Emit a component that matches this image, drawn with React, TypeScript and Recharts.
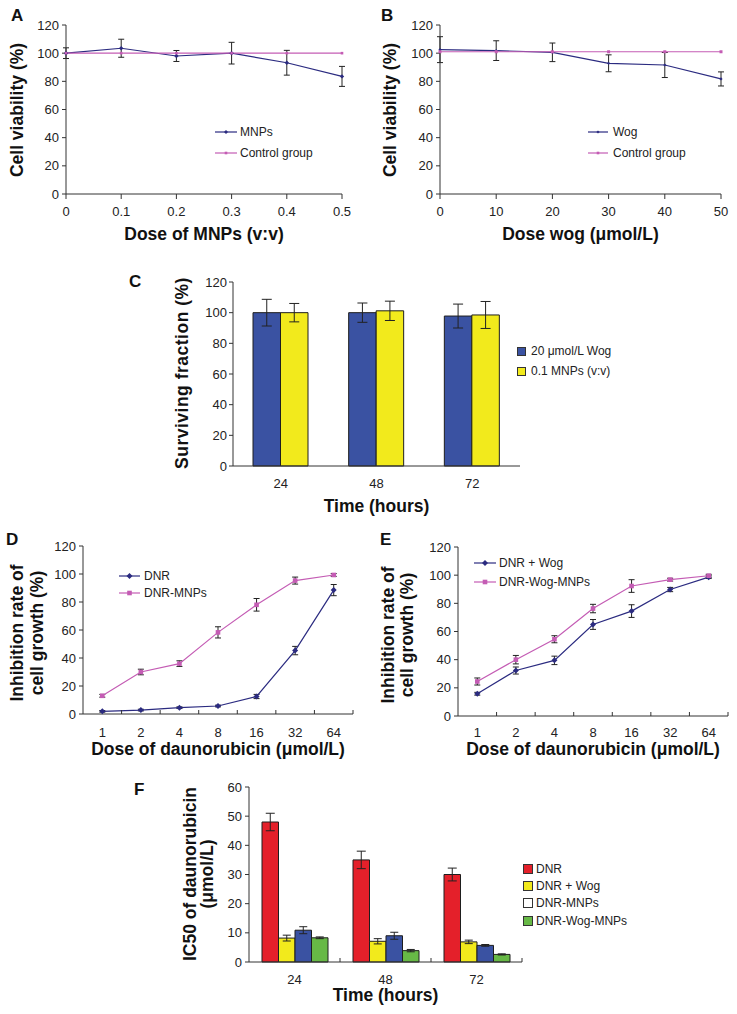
import React from 'react';
import { LineChart, Line, BarChart, Bar, XAxis, YAxis, ErrorBar, Legend, Label } from 'recharts';

const W = 737;
const H = 1014;
const FONT = '"Liberation Sans", Arial, Helvetica, sans-serif';
const NAVY = '#2b2b80';
const PINK = '#c45cb4';
const AXIS = '#333333';
const BLUE = '#3a52a2';
const YELLOW = '#f2ea1c';
const RED = '#e4202a';
const GREEN = '#67b946';

// A: cell viability vs MNPs dose
const mnpsDose = [0, 0.1, 0.2, 0.3, 0.4, 0.5];
const mnpsViability = [100, 103.5, 98, 100, 93.2, 83.5];
const mnpsSd = [3.8, 6.4, 3.9, 7.7, 8.8, 7.1];
const controlA = [100, 100, 100, 100, 100, 100];

// B: cell viability vs wogonin dose
const wogDose = [0, 10, 20, 30, 40, 50];
const wogViability = [102.5, 101.8, 100.6, 92.8, 91.6, 81.7];
const wogSd = [9.2, 7, 6.6, 6, 8.9, 5];
const controlB = [101, 101, 101, 101, 101, 101];

const viabilityTicks = [0, 20, 40, 60, 80, 100, 120];

// C: surviving fraction
const timeLabels = ['24', '48', '72'];
const wogSurv = [100, 100, 97.8];
const wogSurvSd = [8.7, 6.3, 7.8];
const mnpSurv = [100, 101.2, 98.5];
const mnpSurvSd = [6, 6.3, 8.8];

// D / E: inhibition rate
const doseLabels = ['1', '2', '4', '8', '16', '32', '64'];
const dnr = [1.9, 2.8, 4.5, 5.7, 12.5, 45.3, 88.5];
const dnrSd = [0.6, 0.6, 0.6, 0.6, 1.5, 3, 4];
const dnrMnps = [13, 30, 36, 58.3, 78, 95.3, 99.3];
const dnrMnpsSd = [1, 2, 2, 4, 4.5, 2.5, 1];
const dnrWog = [15.8, 32.3, 39.5, 65, 74.5, 89.8, 98.6];
const dnrWogSd = [1, 2.5, 3, 3.5, 4.5, 1.5, 1];
const dnrWogMnps = [24.5, 40, 54.5, 76.3, 92.3, 96.8, 99.6];
const dnrWogMnpsSd = [2.5, 3, 2.5, 3, 4.5, 1, 1];

// F: IC50
const ic50Dnr = [48, 35, 30];
const ic50DnrSd = [3, 3, 2.2];
const ic50DnrWog = [8.2, 7.1, 6.9];
const ic50DnrWogSd = [1, 0.9, 0.6];
const ic50DnrMnps = [10.9, 9, 5.7];
const ic50DnrMnpsSd = [1.2, 1.2, 0.3];
const ic50DnrWogMnps = [8.3, 3.9, 2.6];
const ic50DnrWogMnpsSd = [0.3, 0.4, 0.2];

const dataA = mnpsDose.map((d, i) => ({ dose: d, mnps: mnpsViability[i], mnpsSd: mnpsSd[i], control: controlA[i] }));
const dataB = wogDose.map((d, i) => ({ dose: d, wog: wogViability[i], wogSd: wogSd[i], control: controlB[i] }));
const dataC = timeLabels.map((t, i) => ({ time: t, wog: wogSurv[i], wogSd: wogSurvSd[i], mnp: mnpSurv[i], mnpSd: mnpSurvSd[i] }));
const dataD = doseLabels.map((_, i) => ({ idx: i + 1, dnr: dnr[i], dnrSd: dnrSd[i], dnrMnps: dnrMnps[i], dnrMnpsSd: dnrMnpsSd[i] }));
const dataE = doseLabels.map((_, i) => ({ idx: i + 1, dnrWog: dnrWog[i], dnrWogSd: dnrWogSd[i], dnrWogMnps: dnrWogMnps[i], dnrWogMnpsSd: dnrWogMnpsSd[i] }));
const dataF = timeLabels.map((t, i) => ({
  time: t,
  dnr: ic50Dnr[i], dnrSd: ic50DnrSd[i],
  dnrWog: ic50DnrWog[i], dnrWogSd: ic50DnrWogSd[i],
  dnrMnps: ic50DnrMnps[i], dnrMnpsSd: ic50DnrMnpsSd[i],
  dnrWogMnps: ic50DnrWogMnps[i], dnrWogMnpsSd: ic50DnrWogMnpsSd[i],
}));

const doseIdx = doseLabels.map((_, i) => i + 1);

const tickStyle = { fill: '#222', fontSize: 13, fontFamily: FONT };
const titleProps = { fill: '#111', fontSize: 17.5, fontWeight: 700, fontFamily: FONT };
const layer: React.CSSProperties = { position: 'absolute', left: 0, top: 0 };

// category tick: label at the centre, short upward mark at the right edge of the band
const bandTick = (band: number, drop: number, fmt: (v: any) => string) => (p: any) => {
  const axisY = p.y - drop;
  const bx = p.x + band / 2;
  return (
    <g key={`t${p.index}`}>
      <line x1={bx} x2={bx} y1={axisY} y2={axisY - 4} stroke={AXIS} />
      <text x={p.x} y={p.y} dy="0.71em" textAnchor="middle" fill="#222" fontSize={13} fontFamily={FONT}>{fmt(p.payload.value)}</text>
    </g>
  );
};

// point markers
const diamondDot = (color: string, s: number) => (p: any) =>
  p.cx == null ? <g key={`n${p.index}`} /> : (
    <path key={`d${p.index}`} d={`M${p.cx},${p.cy - s}L${p.cx + s},${p.cy}L${p.cx},${p.cy + s}L${p.cx - s},${p.cy}Z`} fill={color} />
  );
const squareDot = (color: string, s: number) => (p: any) =>
  p.cx == null ? <g key={`n${p.index}`} /> : (
    <rect key={`s${p.index}`} x={p.cx - s} y={p.cy - s} width={2 * s} height={2 * s} fill={color} />
  );

type Marker = { shape: 'diamond' | 'square'; size: number };

function lineLegend(order: string[], markers: Record<string, Marker>, lineW: number, gap: number, rowH: number) {
  return ({ payload }: any) => {
    const items = [...(payload || [])].sort((a, b) => order.indexOf(a.value) - order.indexOf(b.value));
    return (
      <div style={{ fontFamily: FONT, fontSize: 12, color: '#222' }}>
        {items.map((e: any) => {
          const m = markers[e.value];
          const c = lineW / 2;
          return (
            <div key={e.value} style={{ display: 'flex', alignItems: 'center', height: rowH, whiteSpace: 'nowrap' }}>
              <svg width={lineW} height={10} style={{ marginRight: gap, display: 'block' }}>
                <line x1={0} x2={lineW} y1={5} y2={5} stroke={e.color} strokeWidth={1.2} />
                {m.shape === 'diamond' ? (
                  <path d={`M${c},${5 - m.size}L${c + m.size},5L${c},${5 + m.size}L${c - m.size},5Z`} fill={e.color} />
                ) : (
                  <rect x={c - m.size} y={5 - m.size} width={2 * m.size} height={2 * m.size} fill={e.color} />
                )}
              </svg>
              <span>{e.value}</span>
            </div>
          );
        })}
      </div>
    );
  };
}

function barLegend(order: string[], box: number, gap: number, rowH: number, swatchOverride: Record<string, string> = {}) {
  return ({ payload }: any) => {
    const items = [...(payload || [])].sort((a, b) => order.indexOf(a.value) - order.indexOf(b.value));
    return (
      <div style={{ fontFamily: FONT, fontSize: 12, color: '#222' }}>
        {items.map((e: any) => (
          <div key={e.value} style={{ display: 'flex', alignItems: 'center', height: rowH, whiteSpace: 'nowrap' }}>
            <svg width={box} height={box} style={{ marginRight: gap, display: 'block' }}>
              <rect x={0.5} y={0.5} width={box - 1} height={box - 1} fill={swatchOverride[e.value] ?? e.color} stroke="#333" />
            </svg>
            <span>{e.value}</span>
          </div>
        ))}
      </div>
    );
  };
}

const legendPos = (left: number, top: number) => ({ left, top, width: 'auto', height: 'auto' });

function PanelA() {
  return (
    <div style={layer}>
      <LineChart width={W} height={H} data={dataA} margin={{ top: 25, right: 395, bottom: 790, left: 26 }}>
        <XAxis dataKey="dose" type="number" domain={[0, 0.5]} ticks={mnpsDose} height={30} tickSize={5} tickMargin={8} tick={tickStyle} stroke={AXIS}>
          <Label value="Dose of MNPs (v:v)" position="bottom" offset={4} {...titleProps} />
        </XAxis>
        <YAxis type="number" domain={[0, 120]} ticks={viabilityTicks} width={40} tickSize={4} tickMargin={3} tick={tickStyle} stroke={AXIS} />
        <Line type="linear" dataKey="mnps" name="MNPs" stroke={NAVY} strokeWidth={1.2} dot={diamondDot(NAVY, 2.2)} isAnimationActive={false}>
          <ErrorBar dataKey="mnpsSd" direction="y" width={3} stroke="#222" strokeWidth={1} />
        </Line>
        <Line type="linear" dataKey="control" name="Control group" stroke={PINK} strokeWidth={1.2} dot={squareDot(PINK, 1.3)} isAnimationActive={false} />
        <Legend layout="vertical" align="center" verticalAlign="middle" wrapperStyle={legendPos(215, 121)}
          content={lineLegend(['MNPs', 'Control group'], { MNPs: { shape: 'diamond', size: 2 }, 'Control group': { shape: 'square', size: 1.3 } }, 22, 3, 21)} />
      </LineChart>
    </div>
  );
}

function PanelB() {
  return (
    <div style={layer}>
      <LineChart width={W} height={H} data={dataB} margin={{ top: 25, right: 16, bottom: 790, left: 400 }}>
        <XAxis dataKey="dose" type="number" domain={[0, 50]} ticks={wogDose} height={30} tickSize={5} tickMargin={8} tick={tickStyle} stroke={AXIS}>
          <Label value="Dose wog (μmol/L)" position="bottom" offset={4} {...titleProps} />
        </XAxis>
        <YAxis type="number" domain={[0, 120]} ticks={viabilityTicks} width={40} tickSize={4} tickMargin={3} tick={tickStyle} stroke={AXIS} />
        <Line type="linear" dataKey="wog" name="Wog" stroke={NAVY} strokeWidth={1.2} dot={diamondDot(NAVY, 1.6)} isAnimationActive={false}>
          <ErrorBar dataKey="wogSd" direction="y" width={3} stroke="#222" strokeWidth={1} />
        </Line>
        <Line type="linear" dataKey="control" name="Control group" stroke={PINK} strokeWidth={1.2} dot={squareDot(PINK, 1.5)} isAnimationActive={false} />
        <Legend layout="vertical" align="center" verticalAlign="middle" wrapperStyle={legendPos(588, 121)}
          content={lineLegend(['Wog', 'Control group'], { Wog: { shape: 'diamond', size: 1.6 }, 'Control group': { shape: 'square', size: 1.3 } }, 20, 5, 21)} />
      </LineChart>
    </div>
  );
}

function PanelC() {
  return (
    <div style={layer}>
      <BarChart width={W} height={H} data={dataC} margin={{ top: 282, right: 217, bottom: 518, left: 193 }} barSize={27.5} barGap={0}>
        <XAxis dataKey="time" height={30} tickLine={false} tickSize={6} tickMargin={7} tick={tickStyle} stroke={AXIS}>
          <Label value="Time (hours)" position="bottom" offset={4} {...titleProps} />
        </XAxis>
        <YAxis type="number" domain={[0, 120]} ticks={viabilityTicks} width={40} tickSize={4} tickMargin={2} tick={tickStyle} stroke={AXIS} />
        <Bar dataKey="wog" name="20 μmol/L Wog" fill={BLUE} stroke="#1e1e1e" strokeWidth={1} isAnimationActive={false}>
          <ErrorBar dataKey="wogSd" width={5} stroke="#222" strokeWidth={1} />
        </Bar>
        <Bar dataKey="mnp" name="0.1 MNPs (v:v)" fill={YELLOW} stroke="#1e1e1e" strokeWidth={1} isAnimationActive={false}>
          <ErrorBar dataKey="mnpSd" width={5} stroke="#222" strokeWidth={1} />
        </Bar>
        <Legend layout="vertical" align="center" verticalAlign="middle" wrapperStyle={legendPos(517, 341)}
          content={barLegend(['20 μmol/L Wog', '0.1 MNPs (v:v)'], 9, 5, 20)} />
      </BarChart>
    </div>
  );
}

// D/E plot width 270 px over 7 doses
const doseBand = 270 / doseLabels.length;

function PanelD() {
  return (
    <div style={layer}>
      <LineChart width={W} height={H} data={dataD} margin={{ top: 546, right: 384, bottom: 270, left: 43 }}>
        <XAxis dataKey="idx" type="number" domain={[0.5, 7.5]} ticks={doseIdx} height={30} tickLine={false} tickSize={6} tickMargin={8}
          tick={bandTick(doseBand, 14, (v) => doseLabels[v - 1])} stroke={AXIS}>
          <Label value="Dose of daunorubicin (μmol/L)" position="bottom" offset={-1} {...titleProps} />
        </XAxis>
        <YAxis type="number" domain={[0, 120]} ticks={viabilityTicks} width={40} tickSize={4} tickMargin={3} tick={tickStyle} stroke={AXIS} />
        <Line type="linear" dataKey="dnr" name="DNR" stroke={NAVY} strokeWidth={1.2} dot={diamondDot(NAVY, 3)} isAnimationActive={false}>
          <ErrorBar dataKey="dnrSd" direction="y" width={3} stroke="#222" strokeWidth={1} />
        </Line>
        <Line type="linear" dataKey="dnrMnps" name="DNR-MNPs" stroke={PINK} strokeWidth={1.2} dot={squareDot(PINK, 2.3)} isAnimationActive={false}>
          <ErrorBar dataKey="dnrMnpsSd" direction="y" width={3} stroke="#222" strokeWidth={1} />
        </Line>
        <Legend layout="vertical" align="center" verticalAlign="middle" wrapperStyle={legendPos(119, 567)}
          content={lineLegend(['DNR', 'DNR-MNPs'], { DNR: { shape: 'diamond', size: 3 }, 'DNR-MNPs': { shape: 'square', size: 2.3 } }, 21, 4, 17)} />
      </LineChart>
    </div>
  );
}

function PanelE() {
  return (
    <div style={layer}>
      <LineChart width={W} height={H} data={dataE} margin={{ top: 547, right: 9, bottom: 268, left: 418 }}>
        <XAxis dataKey="idx" type="number" domain={[0.5, 7.5]} ticks={doseIdx} height={30} tickLine={false} tickSize={6} tickMargin={6}
          tick={bandTick(doseBand, 12, (v) => doseLabels[v - 1])} stroke={AXIS}>
          <Label value="Dose of daunorubicin (μmol/L)" position="bottom" offset={-3} {...titleProps} />
        </XAxis>
        <YAxis type="number" domain={[0, 120]} ticks={viabilityTicks} width={40} tickSize={4} tickMargin={3} tick={tickStyle} stroke={AXIS} />
        <Line type="linear" dataKey="dnrWog" name="DNR + Wog" stroke={NAVY} strokeWidth={1.2} dot={diamondDot(NAVY, 3)} isAnimationActive={false}>
          <ErrorBar dataKey="dnrWogSd" direction="y" width={3} stroke="#222" strokeWidth={1} />
        </Line>
        <Line type="linear" dataKey="dnrWogMnps" name="DNR-Wog-MNPs" stroke={PINK} strokeWidth={1.2} dot={squareDot(PINK, 2.3)} isAnimationActive={false}>
          <ErrorBar dataKey="dnrWogMnpsSd" direction="y" width={3} stroke="#222" strokeWidth={1} />
        </Line>
        <Legend layout="vertical" align="center" verticalAlign="middle" wrapperStyle={legendPos(474, 553)}
          content={lineLegend(['DNR + Wog', 'DNR-Wog-MNPs'], { 'DNR + Wog': { shape: 'diamond', size: 3 }, 'DNR-Wog-MNPs': { shape: 'square', size: 2.3 } }, 22, 3, 19)} />
      </LineChart>
    </div>
  );
}

// F plot width 273 px over 3 time points
const timeBandF = 273 / timeLabels.length;

function PanelF() {
  return (
    <div style={layer}>
      <BarChart width={W} height={H} data={dataF} margin={{ top: 787, right: 215, bottom: 22, left: 209 }} barSize={16.5} barGap={0}>
        <XAxis dataKey="time" height={30} tickLine={false} tickSize={6} tickMargin={7}
          tick={bandTick(timeBandF, 13, (v) => String(v))} stroke={AXIS}>
          <Label value="Time (hours)" position="bottom" offset={-3} {...titleProps} />
        </XAxis>
        <YAxis type="number" domain={[0, 60]} ticks={[0, 10, 20, 30, 40, 50, 60]} width={40} tickSize={4} tickMargin={3} tick={tickStyle} stroke={AXIS} />
        <Bar dataKey="dnr" name="DNR" fill={RED} stroke="#1e1e1e" strokeWidth={1} isAnimationActive={false}>
          <ErrorBar dataKey="dnrSd" width={4.5} stroke="#222" strokeWidth={1} />
        </Bar>
        <Bar dataKey="dnrWog" name="DNR + Wog" fill={YELLOW} stroke="#1e1e1e" strokeWidth={1} isAnimationActive={false}>
          <ErrorBar dataKey="dnrWogSd" width={4} stroke="#222" strokeWidth={1} />
        </Bar>
        <Bar dataKey="dnrMnps" name="DNR-MNPs" fill={BLUE} stroke="#1e1e1e" strokeWidth={1} isAnimationActive={false}>
          <ErrorBar dataKey="dnrMnpsSd" width={4} stroke="#222" strokeWidth={1} />
        </Bar>
        <Bar dataKey="dnrWogMnps" name="DNR-Wog-MNPs" fill={GREEN} stroke="#1e1e1e" strokeWidth={1} isAnimationActive={false}>
          <ErrorBar dataKey="dnrWogMnpsSd" width={4} stroke="#222" strokeWidth={1} />
        </Bar>
        <Legend layout="vertical" align="center" verticalAlign="middle" wrapperStyle={legendPos(523, 860)}
          content={barLegend(['DNR', 'DNR + Wog', 'DNR-MNPs', 'DNR-Wog-MNPs'], 10, 3, 17.3, { 'DNR-MNPs': '#ffffff' })} />
      </BarChart>
    </div>
  );
}

// rotated axis titles and panel letters
function VTitle({ lines, xs, cy, size = 17.5, spacing = 0 }: { lines: string[]; xs: number[]; cy: number; size?: number; spacing?: number }) {
  return (
    <>
      {lines.map((t, i) => (
        <text key={t} x={xs[i]} y={cy} transform={`rotate(-90, ${xs[i]}, ${cy})`} textAnchor="middle" dominantBaseline="central"
          fontFamily={FONT} fontSize={size} fontWeight={700} fill="#111" letterSpacing={spacing}>{t}</text>
      ))}
    </>
  );
}

const letters: [string, number, number][] = [
  ['A', 11, 21], ['B', 381, 21], ['C', 129, 287], ['D', 6, 545], ['E', 380, 545], ['F', 134, 795],
];

function Annotations() {
  return (
    <svg width={W} height={H} style={{ ...layer, pointerEvents: 'none' }}>
      {letters.map(([l, x, y]) => (
        <text key={l} x={x} y={y} fontFamily={FONT} fontSize={17} fontWeight={700} fill="#111">{l}</text>
      ))}
      <VTitle lines={['Cell viability (%)']} xs={[17]} cy={110} />
      <VTitle lines={['Cell viability (%)']} xs={[390]} cy={110} />
      <VTitle lines={['Surviving fraction (%)']} xs={[182]} cy={373} spacing={0.5} />
      <VTitle lines={['Inhibition rate of', 'cell growth (%)']} xs={[17, 37]} cy={633} />
      <VTitle lines={['Inhibition rate of', 'cell growth (%)']} xs={[388, 407]} cy={635} />
      <VTitle lines={['IC50 of daunorubicin', '(μmol/L)']} xs={[190, 207]} cy={874} />
    </svg>
  );
}

export default function App() {
  return (
    <div style={{ position: 'absolute', left: 0, top: 0, width: W, height: H, background: '#fff', overflow: 'hidden' }}>
      <PanelA />
      <PanelB />
      <PanelC />
      <PanelD />
      <PanelE />
      <PanelF />
      <Annotations />
    </div>
  );
}
